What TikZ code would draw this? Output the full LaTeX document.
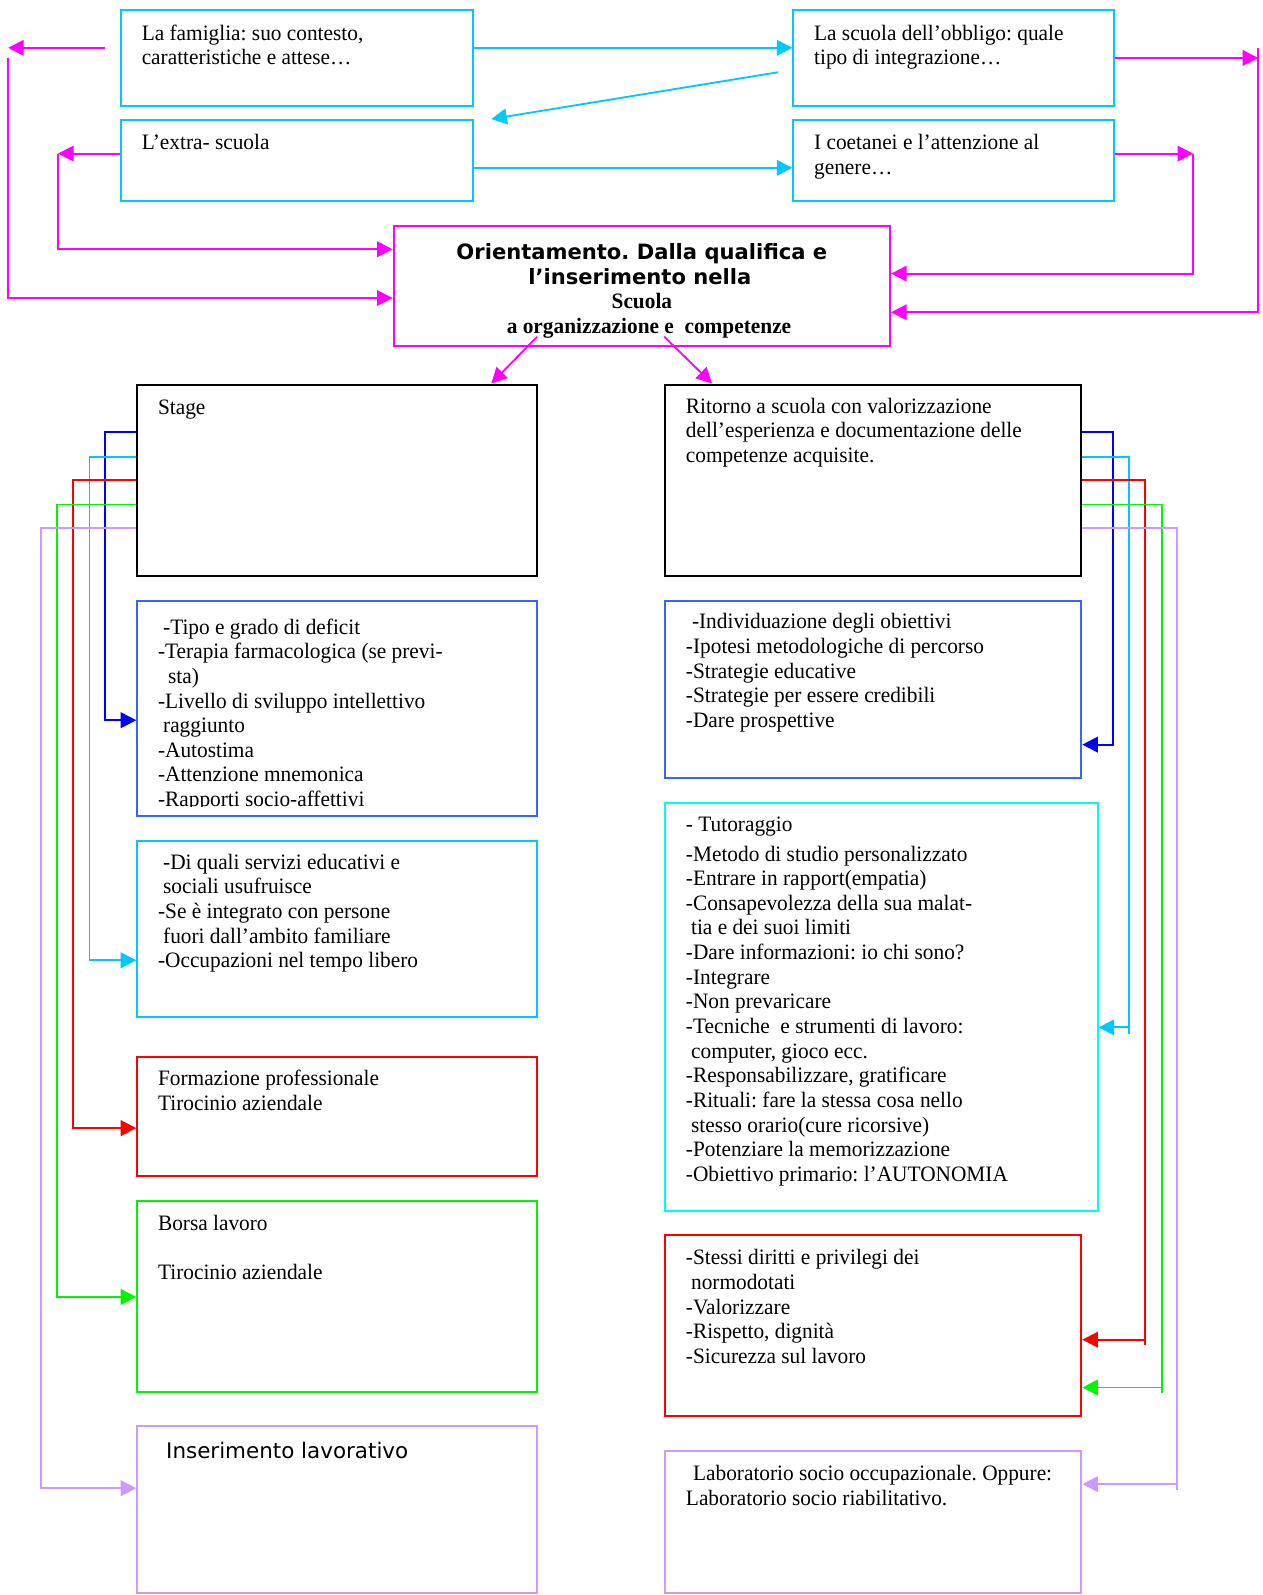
\documentclass[tikz,border=0pt]{standalone}
\usepackage{fontspec}
\setmainfont[FakeStretch=0.97]{Liberation Serif}
\newfontfamily\vsans{DejaVu Sans}
\usetikzlibrary{arrows.meta,fit}
\frenchspacing
\definecolor{cyA}{RGB}{0,200,255}
\definecolor{aquaB}{RGB}{0,250,255}
\definecolor{blA}{RGB}{51,102,255}
\definecolor{bluC}{RGB}{0,0,255}
\definecolor{redC}{RGB}{255,0,0}
\definecolor{grnC}{RGB}{0,245,0}
\definecolor{lavC}{RGB}{204,153,255}
\definecolor{magC}{RGB}{255,0,255}
\tikzset{
  bx/.style={draw=#1, line width=1.1pt, inner sep=0pt},
  tx/.style={anchor=north west, inner sep=0pt, align=left, font=\frenchspacing\fontsize{12}{13.45}\selectfont},
  con/.style={draw=#1, line width=1pt, -{Triangle[length=8.5pt,width=8.5pt]}},
  ln/.style={draw=#1, line width=1pt},
}
\begin{document}
\begin{tikzpicture}[x=0.555pt,y=-0.555pt]
\useasboundingbox (0,0) rectangle (1241,1568);
% boxes
\node[bx=cyA, fit={(119,10)(465,104)}] (fam) {};
\node[bx=cyA, fit={(780,10)(1095,104)}] (obb) {};
\node[bx=cyA, fit={(119,118)(465,198)}] (extra) {};
\node[bx=cyA, fit={(780,118)(1095,198)}] (coet) {};
\node[bx=magC, fit={(387,222)(875,340)}] (ori) {};
\node[bx=black, fit={(135,378)(528,566)}] (stage) {};
\node[bx=black, fit={(654,378)(1063,566)}] (rit) {};
\node[bx=blA, fit={(135,591)(528,802)}] (lblue) {};
\node[bx=cyA, fit={(135,827)(528,1000)}] (lcyan) {};
\node[bx=redC, fit={(135,1039)(528,1156)}] (lred) {};
\node[bx=grnC, fit={(135,1181)(528,1368)}] (lgrn) {};
\node[bx=lavC, fit={(135,1402)(528,1566)}] (llav) {};
\node[bx=blA, fit={(654,591)(1063,765)}] (rblue) {};
\node[bx=aquaB, fit={(654,789)(1079,1190)}] (rcyan) {};
\node[bx=redC, fit={(654,1214)(1063,1392)}] (rred) {};
\node[bx=lavC, fit={(654,1426)(1063,1566)}] (rlav) {};
% texts
\node[tx] (tfam) at (139,22) {\strut La famiglia: suo contesto,\\caratteristiche e attese…};
\node[tx] (tobb) at (800,22) {\strut La scuola dell’obbligo: quale\\tipo di integrazione…};
\node[tx] (textra) at (139,130) {\strut L’extra- scuola};
\node[tx] (tcoet) at (800,130) {\strut I coetanei e l’attenzione al\\genere…};
\node[anchor=base, inner sep=0pt, font=\frenchspacing\vsans\bfseries\fontsize{11.5}{14}\selectfont] (o1) at (631,255) {Orientamento. Dalla qualifica e};
\node[anchor=base, inner sep=0pt, font=\vsans\bfseries\fontsize{11.5}{14}\selectfont] (o2) at (629,280) {l’inserimento nella};
\node[anchor=base, inner sep=0pt, font=\bfseries\fontsize{12}{14}\selectfont] (o3) at (631,303) {Scuola};
\node[anchor=base, inner sep=0pt, font=\bfseries\fontsize{12}{14}\selectfont] (o4) at (638,328) {a organizzazione e\ \ competenze};
\node[tx] (tstage) at (155,390) {\strut Stage};
\node[tx] (trit) at (674,389) {\strut Ritorno a scuola con valorizzazione\\dell’esperienza e documentazione delle\\competenze acquisite.};
\begin{scope}
\clip (135,591) rectangle (528,793);
\node[tx] (tlblue) at (155,606) {\strut\hspace*{2.8pt}-Tipo e grado di deficit\\-Terapia farmacologica (se previ-\\\hspace*{5.5pt}sta)\\-Livello di sviluppo intellettivo\\\hspace*{2.8pt}raggiunto\\-Autostima\\-Attenzione mnemonica\\-Rapporti socio-affettivi};
\end{scope}
\node[tx] (tlcyan) at (155,837) {\strut\hspace*{2.8pt}-Di quali servizi educativi e\\\hspace*{2.8pt}sociali usufruisce\\-Se è integrato con persone\\\hspace*{2.8pt}fuori dall’ambito familiare\\-Occupazioni nel tempo libero};
\node[tx] (tlred) at (155,1050) {\strut Formazione professionale\\Tirocinio aziendale};
\node[tx] (tlgrn) at (155,1192) {\strut Borsa lavoro\\[13.45pt]Tirocinio aziendale};
\node[anchor=base west, inner sep=0pt, font=\vsans\fontsize{11.7}{14}\selectfont] (tllav) at (163,1434) {Inserimento lavorativo};
\node[tx] (trblue) at (674,601) {\strut\hspace*{3.3pt}-Individuazione degli obiettivi\\-Ipotesi metodologiche di percorso\\-Strategie educative\\-Strategie per essere credibili\\-Dare prospettive};
\node[tx] (trcyan) at (674,800) {\strut- Tutoraggio\\[2.7pt]-Metodo di studio personalizzato\\-Entrare in rapport(empatia)\\-Consapevolezza della sua malat-\\\hspace*{2.8pt}tia e dei suoi limiti\\-Dare informazioni: io chi sono?\\-Integrare\\-Non prevaricare\\-Tecniche\ \ e strumenti di lavoro:\\\hspace*{2.8pt}computer, gioco ecc.\\-Responsabilizzare, gratificare\\-Rituali: fare la stessa cosa nello\\\hspace*{2.8pt}stesso orario(cure ricorsive)\\-Potenziare la memorizzazione\\-Obiettivo primario: l’AUTONOMIA};
\node[tx] (trred) at (674,1226) {\strut -Stessi diritti e privilegi dei\\\hspace*{2.8pt}normodotati\\-Valorizzare\\-Rispetto, dignità\\-Sicurezza sul lavoro};
\node[tx] (trlav) at (674,1438) {\strut\hspace*{3.9pt}Laboratorio socio occupazionale. Oppure:\\Laboratorio socio riabilitativo.};
% free end coordinates
\coordinate (famL) at (103,47);
\coordinate (famT) at (8,47);
\coordinate (d1) at (765,71);
\coordinate (d2) at (483,117);
\coordinate (a1) at (528,331);
\coordinate (a2) at (653,331);
% cyan top connectors
\draw[con=cyA] (fam.east |- 0,47) -- (obb.west |- 0,47);
\draw[con=cyA] (d1) -- (d2);
\draw[con=cyA] (extra.east |- 0,165) -- (coet.west |- 0,165);
% magenta connectors
\draw[con=magC] (famL) -- (famT);
\draw[con=magC] (8,57) |- (ori.west |- 0,293);
\draw[con=magC] (extra.west |- 0,151) -- (57,151);
\draw[con=magC] (57,151) |- (ori.west |- 0,245);
\draw[con=magC] (obb.east |- 0,57) -- (1237,57);
\draw[con=magC] (1237,47) |- (ori.east |- 0,307);
\draw[con=magC] (coet.east |- 0,151) -- (1173,151);
\draw[con=magC] (1173,151) |- (ori.east |- 0,269);
\draw[con=magC] (a1) -- (stage.north -| 483,0);
\draw[con=magC] (a2) -- (rit.north -| 700,0);
% left connectors
\draw[con=bluC] (stage.west |- 0,425) -- (103,425) |- (lblue.west |- 0,708);
\draw[con=cyA] (stage.west |- 0,449) -- (88,449) |- (lcyan.west |- 0,944);
\draw[con=redC] (stage.west |- 0,472) -- (72,472) |- (lred.west |- 0,1109);
\draw[con=grnC] (stage.west |- 0,496) -- (56,496) |- (lgrn.west |- 0,1275);
\draw[con=lavC] (stage.west |- 0,519) -- (40,519) |- (llav.west |- 0,1463);
% right connectors
\draw[con=bluC] (rit.east |- 0,425) -- (1094,425) |- (rblue.east |- 0,732);
\draw[ln=cyA] (rit.east |- 0,449) -- (1110,449) -- (1110,1016);
\draw[con=cyA] (1110,1010) -- (rcyan.east |- 0,1010);
\draw[ln=redC] (rit.east |- 0,472) -- (1126,472) -- (1126,1322);
\draw[con=redC] (1126,1317) -- (rred.east |- 0,1317);
\draw[ln=grnC] (rit.east |- 0,496) -- (1142,496) -- (1142,1369);
\draw[con=grnC] (1142,1364) -- (rred.east |- 0,1364);
\draw[ln=lavC] (rit.east |- 0,519) -- (1157,519) -- (1157,1465);
\draw[con=lavC] (1157,1459) -- (rlav.east |- 0,1459);
\end{tikzpicture}
\end{document}
